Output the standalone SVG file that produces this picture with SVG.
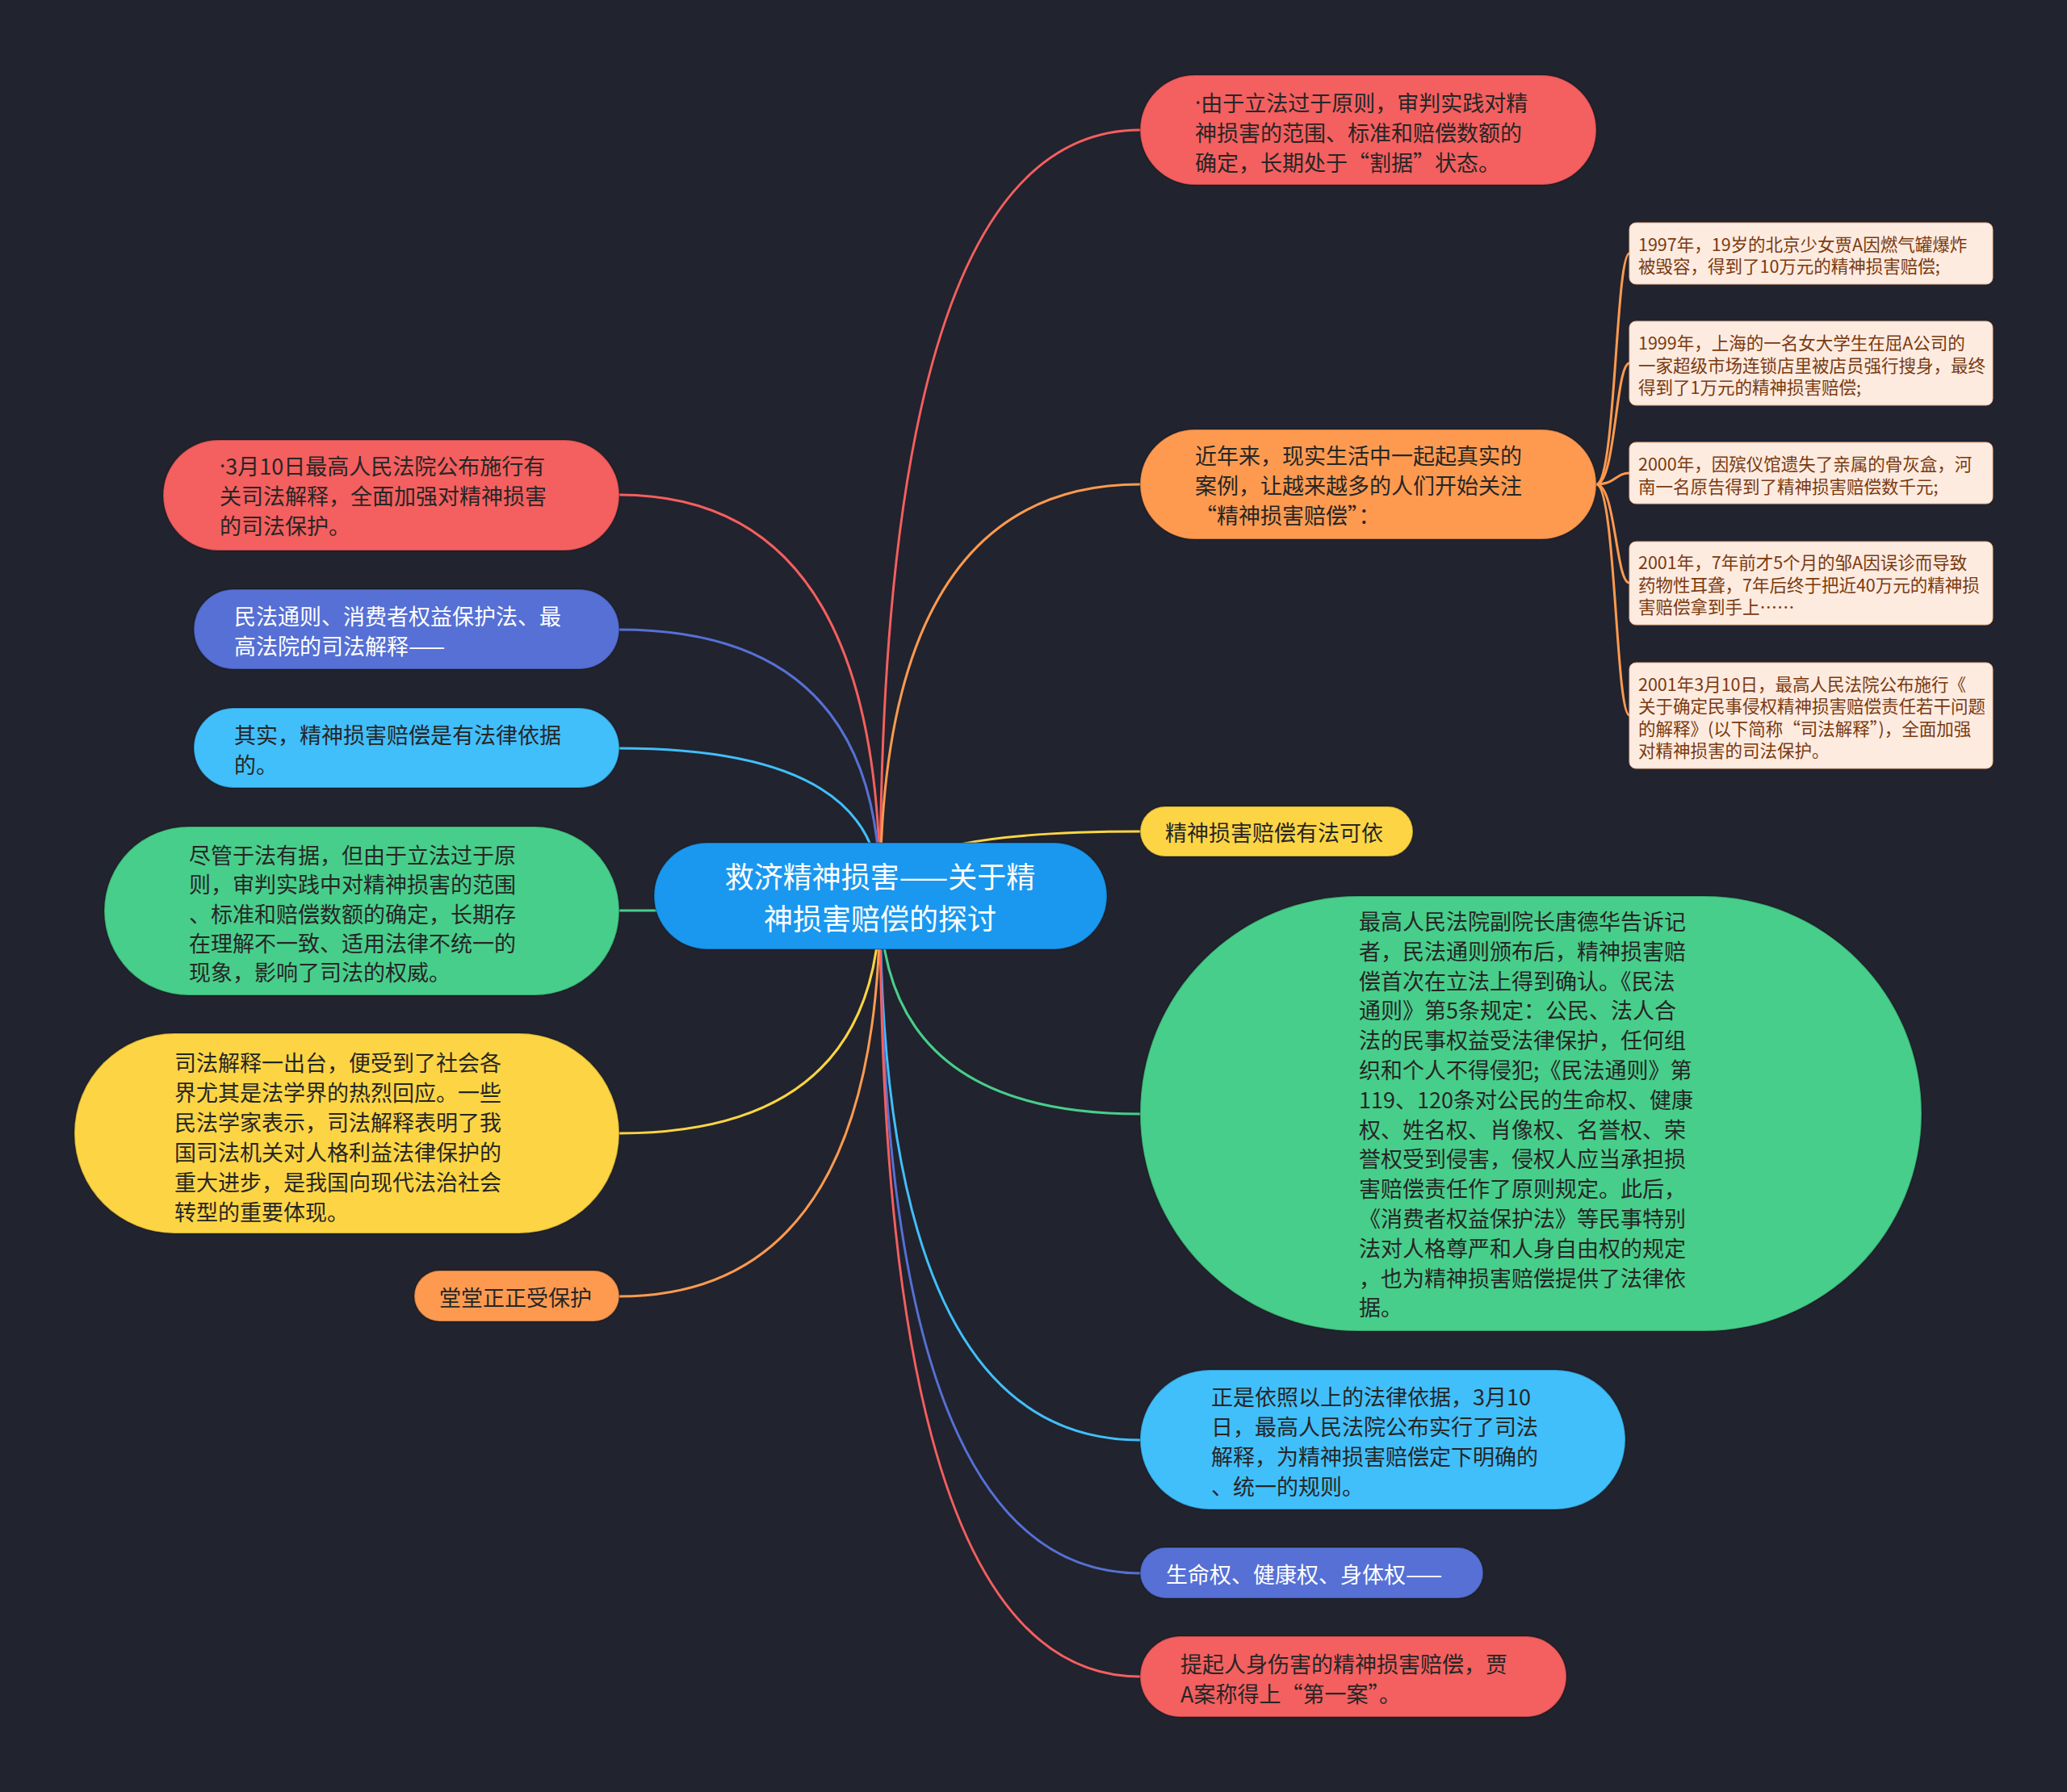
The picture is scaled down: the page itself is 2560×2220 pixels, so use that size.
<svg xmlns="http://www.w3.org/2000/svg" width="2560" height="2220" viewBox="0 0 2560 2220">
<style>
text{font-family:"Noto Sans CJK SC","Noto Sans",sans-serif;dominant-baseline:central}
.t{font-size:27px;fill:#262626}
.w{font-size:27px;fill:#ffffff}
.s{font-size:21.5px;fill:#7a3a10}
.c{font-size:36px;fill:#ffffff;text-anchor:middle}
.d{font-family:"Noto Sans",sans-serif}
.n{stroke:rgba(0,0,0,0.22);stroke-width:2}
.red{fill:#f45f5f}.org{fill:#fd9a50}.yel{fill:#fdd544}.grn{fill:#48ce8b}.cyn{fill:#41bffb}.blu{fill:#5670d5}
.sub{fill:#fdebe0;stroke:#ecb892;stroke-width:1}
.l{fill:none;stroke-width:3}
</style>
<rect width="2560" height="2220" fill="#21232e"/>
<g id="connectors">
<path class="l" stroke="#f45f5f" d="M1090 1110 Q1090 161 1412 161"/>
<path class="l" stroke="#fd9a50" d="M1090 1110 Q1090 600 1412 600"/>
<path class="l" stroke="#fdd544" d="M1090 1110 Q1090 1030 1412 1030"/>
<path class="l" stroke="#48ce8b" d="M1090 1110 Q1090 1380 1412 1380"/>
<path class="l" stroke="#41bffb" d="M1090 1110 Q1090 1784 1412 1784"/>
<path class="l" stroke="#5670d5" d="M1090 1110 Q1090 1949 1412 1949"/>
<path class="l" stroke="#f45f5f" d="M1090 1110 Q1090 2077 1412 2077"/>
<path class="l" stroke="#f45f5f" d="M1090 1110 Q1090 613 767 613"/>
<path class="l" stroke="#5670d5" d="M1090 1110 Q1090 780 767 780"/>
<path class="l" stroke="#41bffb" d="M1090 1110 Q1090 927 767 927"/>
<path class="l" stroke="#48ce8b" d="M1090 1110 Q1090 1128 767 1128"/>
<path class="l" stroke="#fdd544" d="M1090 1110 Q1090 1404 767 1404"/>
<path class="l" stroke="#fd9a50" d="M1090 1110 Q1090 1606 767 1606"/>
<path class="l" stroke="#fd9a50" stroke-width="2" d="M1977 600 C2001 600 2001 314 2018 314"/>
<path class="l" stroke="#fd9a50" stroke-width="2" d="M1977 600 C2001 600 2001 450 2018 450"/>
<path class="l" stroke="#fd9a50" stroke-width="2" d="M1977 600 C2001 600 2001 586 2018 586"/>
<path class="l" stroke="#fd9a50" stroke-width="2" d="M1977 600 C2001 600 2001 722 2018 722"/>
<path class="l" stroke="#fd9a50" stroke-width="2" d="M1977 600 C2001 600 2001 886 2018 886"/>
</g>
<g id="center">
<rect class="n" x="810" y="1044" width="561" height="132" rx="66" fill="#1a98ef"/>
<text class="c" x="1090" y="1084">救济精神损害——关于精</text>
<text class="c" x="1090" y="1136">神损害赔偿的探讨</text>
</g>
<g id="r1">
<rect class="n red" x="1412" y="93" width="565" height="136" rx="68"/>
<text class="t" x="1480" y="126"><tspan class="d">·</tspan>由于立法过于原则，审判实践对精</text>
<text class="t" x="1480" y="163">神损害的范围、标准和赔偿数额的</text>
<text class="t" x="1480" y="200">确定，长期处于“割据”状态。</text>
</g>
<g id="r2">
<rect class="n org" x="1412" y="532" width="565" height="136" rx="68"/>
<text class="t" x="1480" y="563">近年来，现实生活中一起起真实的</text>
<text class="t" x="1480" y="600">案例，让越来越多的人们开始关注</text>
<text class="t" x="1480" y="637">“精神损害赔偿”：</text>
</g>
<g id="s1">
<rect class="sub" x="2018" y="276" width="450" height="76" rx="8"/>
<text class="s" x="2029" y="301">1997年，19岁的北京少女贾A因燃气罐爆炸</text>
<text class="s" x="2029" y="328">被毁容，得到了10万元的精神损害赔偿;</text>
</g>
<g id="s2">
<rect class="sub" x="2018" y="398" width="450" height="104" rx="8"/>
<text class="s" x="2029" y="423">1999年，上海的一名女大学生在屈A公司的</text>
<text class="s" x="2029" y="451">一家超级市场连锁店里被店员强行搜身，最终</text>
<text class="s" x="2029" y="478">得到了1万元的精神损害赔偿;</text>
</g>
<g id="s3">
<rect class="sub" x="2018" y="548" width="450" height="76" rx="8"/>
<text class="s" x="2029" y="573">2000年，因殡仪馆遗失了亲属的骨灰盒，河</text>
<text class="s" x="2029" y="601">南一名原告得到了精神损害赔偿数千元;</text>
</g>
<g id="s4">
<rect class="sub" x="2018" y="671" width="450" height="103" rx="8"/>
<text class="s" x="2029" y="695">2001年，7年前才5个月的邹A因误诊而导致</text>
<text class="s" x="2029" y="723">药物性耳聋，7年后终于把近40万元的精神损</text>
<text class="s" x="2029" y="750">害赔偿拿到手上……</text>
</g>
<g id="s5">
<rect class="sub" x="2018" y="821" width="450" height="131" rx="8"/>
<text class="s" x="2029" y="846">2001年3月10日，最高人民法院公布施行《</text>
<text class="s" x="2029" y="873">关于确定民事侵权精神损害赔偿责任若干问题</text>
<text class="s" x="2029" y="901">的解释》(以下简称“司法解释”)，全面加强</text>
<text class="s" x="2029" y="928">对精神损害的司法保护。</text>
</g>
<g id="r3">
<rect class="n yel" x="1412" y="999" width="338" height="62" rx="31"/>
<text class="t" x="1443" y="1030">精神损害赔偿有法可依</text>
</g>
<g id="r4">
<rect class="n grn" x="1412" y="1110" width="968" height="539" rx="269.5"/>
<text class="t" x="1683" y="1140">最高人民法院副院长唐德华告诉记</text>
<text class="t" x="1683" y="1177">者，民法通则颁布后，精神损害赔</text>
<text class="t" x="1683" y="1214">偿首次在立法上得到确认。《民法</text>
<text class="t" x="1683" y="1250">通则》第5条规定：公民、法人合</text>
<text class="t" x="1683" y="1287">法的民事权益受法律保护，任何组</text>
<text class="t" x="1683" y="1324">织和个人不得侵犯;《民法通则》第</text>
<text class="t" x="1683" y="1361">119、120条对公民的生命权、健康</text>
<text class="t" x="1683" y="1398">权、姓名权、肖像权、名誉权、荣</text>
<text class="t" x="1683" y="1434">誉权受到侵害，侵权人应当承担损</text>
<text class="t" x="1683" y="1471">害赔偿责任作了原则规定。此后，</text>
<text class="t" x="1683" y="1508">《消费者权益保护法》等民事特别</text>
<text class="t" x="1683" y="1545">法对人格尊严和人身自由权的规定</text>
<text class="t" x="1683" y="1582">，也为精神损害赔偿提供了法律依</text>
<text class="t" x="1683" y="1618">据。</text>
</g>
<g id="r5">
<rect class="n cyn" x="1412" y="1697" width="601" height="173" rx="86.5"/>
<text class="t" x="1500" y="1729">正是依照以上的法律依据，3月10</text>
<text class="t" x="1500" y="1766">日，最高人民法院公布实行了司法</text>
<text class="t" x="1500" y="1803">解释，为精神损害赔偿定下明确的</text>
<text class="t" x="1500" y="1840">、统一的规则。</text>
</g>
<g id="r6">
<rect class="n blu" x="1412" y="1917" width="425" height="63" rx="31.5"/>
<text class="w" x="1444" y="1949">生命权、健康权、身体权——</text>
</g>
<g id="r7">
<rect class="n red" x="1412" y="2027" width="528" height="100" rx="50"/>
<text class="t" x="1462" y="2060">提起人身伤害的精神损害赔偿，贾</text>
<text class="t" x="1462" y="2097">A案称得上“第一案”。</text>
</g>
<g id="l1">
<rect class="n red" x="202" y="545" width="565" height="137" rx="68.5"/>
<text class="t" x="272" y="576"><tspan class="d">·</tspan>3月10日最高人民法院公布施行有</text>
<text class="t" x="272" y="613">关司法解释，全面加强对精神损害</text>
<text class="t" x="272" y="650">的司法保护。</text>
</g>
<g id="l2">
<rect class="n blu" x="240" y="730" width="527" height="99" rx="49.5"/>
<text class="w" x="290" y="762">民法通则、消费者权益保护法、最</text>
<text class="w" x="290" y="799">高法院的司法解释——</text>
</g>
<g id="l3">
<rect class="n cyn" x="240" y="877" width="527" height="99" rx="49.5"/>
<text class="t" x="290" y="909">其实，精神损害赔偿是有法律依据</text>
<text class="t" x="290" y="946">的。</text>
</g>
<g id="l4">
<rect class="n grn" x="129" y="1024" width="638" height="209" rx="104.5"/>
<text class="t" x="234" y="1058">尽管于法有据，但由于立法过于原</text>
<text class="t" x="234" y="1094">则，审判实践中对精神损害的范围</text>
<text class="t" x="234" y="1131">、标准和赔偿数额的确定，长期存</text>
<text class="t" x="234" y="1167">在理解不一致、适用法律不统一的</text>
<text class="t" x="234" y="1203">现象，影响了司法的权威。</text>
</g>
<g id="l5">
<rect class="n yel" x="92" y="1280" width="675" height="248" rx="124"/>
<text class="t" x="216" y="1315">司法解释一出台，便受到了社会各</text>
<text class="t" x="216" y="1352">界尤其是法学界的热烈回应。一些</text>
<text class="t" x="216" y="1389">民法学家表示，司法解释表明了我</text>
<text class="t" x="216" y="1426">国司法机关对人格利益法律保护的</text>
<text class="t" x="216" y="1463">重大进步，是我国向现代法治社会</text>
<text class="t" x="216" y="1500">转型的重要体现。</text>
</g>
<g id="l6">
<rect class="n org" x="513" y="1574" width="254" height="63" rx="31.5"/>
<text class="t" x="544" y="1606">堂堂正正受保护</text>
</g>
</svg>
